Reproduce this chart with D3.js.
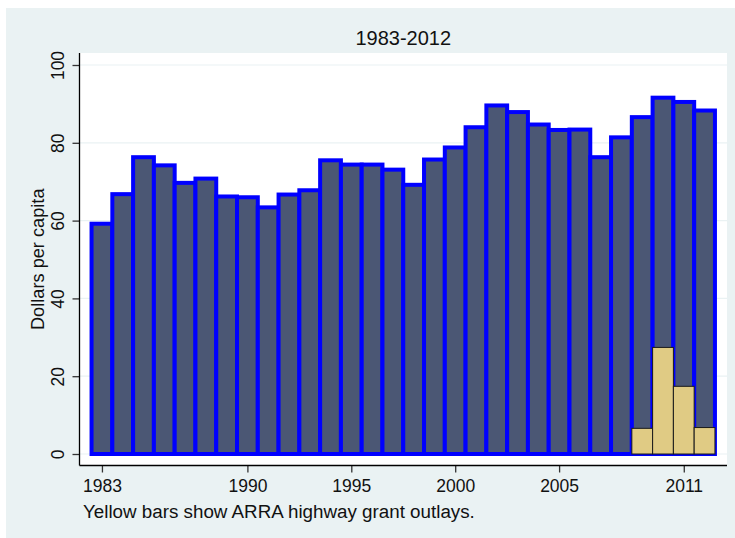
<!DOCTYPE html>
<html>
<head>
<meta charset="utf-8">
<script src="https://cdn.jsdelivr.net/npm/d3@7"></script>
<style>
  html, body { margin: 0; padding: 0; background: #ffffff; }
  svg { display: block; font-family: "Liberation Sans", Arial, Helvetica, sans-serif; }
</style>
</head>
<body>
<svg id="chart" width="735" height="538"></svg>
<script>
const years = [1983,1984,1985,1986,1987,1988,1989,1990,1991,1992,1993,1994,1995,1996,1997,1998,1999,2000,2001,2002,2003,2004,2005,2006,2007,2008,2009,2010,2011,2012];
const totalOutlays = [59.2,66.8,76.3,74.2,69.7,70.8,66.2,66.0,63.4,66.7,67.8,75.5,74.4,74.4,73.1,69.2,75.7,78.8,84.0,89.6,87.9,84.7,83.3,83.4,76.3,81.4,86.6,91.6,90.5,88.3];
const arraYears = [2009,2010,2011,2012];
const arraOutlays = [6.6,27.4,17.4,6.8];
const yTicks = [0,20,40,60,80,100];
const xTicks = [1983,1990,1995,2000,2005,2011];
const titleText = "1983-2012";
const yTitle = "Dollars per capita";
const noteText = "Yellow bars show ARRA highway grant outlays.";

const svg = d3.select("#chart");

// outer background
svg.append("rect").attr("x", 6).attr("y", 8).attr("width", 729).attr("height", 530).attr("fill", "#eaf2f3");

const plot = {left: 79.5, right: 727, top: 53, bottom: 465.5};
svg.append("rect").attr("x", plot.left).attr("y", plot.top)
  .attr("width", plot.right - plot.left).attr("height", plot.bottom - plot.top).attr("fill", "#ffffff");

const x = d3.scaleLinear().domain([1981.92, 2013.08]).range([plot.left, plot.right]);
const y = d3.scaleLinear().domain([0, 100]).range([454, 65]);
const bw = x(1984) - x(1983);

// grid
svg.append("g").selectAll("line").data(yTicks).join("line")
  .attr("x1", plot.left).attr("x2", plot.right)
  .attr("y1", d => y(d)).attr("y2", d => y(d))
  .attr("stroke", "#eaf2f3").attr("stroke-width", 1.2);

// main bars
svg.append("g").selectAll("rect").data(years).join("rect")
  .attr("x", (d) => x(d) - bw / 2)
  .attr("y", (d, i) => y(totalOutlays[i]))
  .attr("width", bw)
  .attr("height", (d, i) => y(0) - y(totalOutlays[i]))
  .attr("fill", "#4b5774")
  .attr("stroke", "#0000ff")
  .attr("stroke-width", 4);

// ARRA bars
svg.append("g").selectAll("rect").data(arraYears).join("rect")
  .attr("x", (d) => x(d) - bw / 2)
  .attr("y", (d, i) => y(arraOutlays[i]))
  .attr("width", bw)
  .attr("height", (d, i) => y(0) - y(arraOutlays[i]))
  .attr("fill", "#e0cb84")
  .attr("stroke", "#1a1a1a")
  .attr("stroke-width", 1);

// y axis
const yAxis = d3.axisLeft(y).tickValues(yTicks).tickSize(7).tickPadding(9).tickFormat(d3.format("d"));
const gy = svg.append("g").attr("transform", `translate(${plot.left},0)`).call(yAxis);
gy.select(".domain").remove();
gy.append("line").attr("x1", 0).attr("x2", 0).attr("y1", plot.top).attr("y2", plot.bottom).attr("stroke", "#000").attr("stroke-width", 1.3);
gy.selectAll(".tick line").attr("stroke", "#333").attr("stroke-width", 1.3);
gy.selectAll(".tick text")
  .attr("font-size", 17.5).attr("fill", "#111")
  .attr("font-family", "Liberation Sans, Arial, sans-serif")
  .attr("x", null).attr("dy", null)
  .attr("text-anchor", "middle")
  .attr("transform", "translate(-16,0) rotate(-90)");

// x axis
const xAxis = d3.axisBottom(x).tickValues(xTicks).tickSize(7).tickPadding(7).tickFormat(d3.format("d"));
const gx = svg.append("g").attr("transform", `translate(0,${plot.bottom})`).call(xAxis);
gx.select(".domain").remove();
gx.append("line").attr("x1", plot.left).attr("x2", plot.right).attr("y1", 0).attr("y2", 0).attr("stroke", "#000").attr("stroke-width", 1.3);
gx.selectAll(".tick line").attr("stroke", "#333").attr("stroke-width", 1.3);
gx.selectAll(".tick text").attr("font-size", 17.5).attr("fill", "#111")
  .attr("font-family", "Liberation Sans, Arial, sans-serif");

// title
svg.append("text").attr("x", (plot.left + plot.right) / 2).attr("y", 44.5)
  .attr("text-anchor", "middle").attr("font-size", 20).attr("fill", "#111").text(titleText);

// y title
svg.append("text").attr("transform", `translate(43.5,${(plot.top + plot.bottom) / 2}) rotate(-90)`)
  .attr("text-anchor", "middle").attr("font-size", 18.2).attr("fill", "#111").text(yTitle);

// note
svg.append("text").attr("x", 83).attr("y", 517.5)
  .attr("font-size", 18.8).attr("fill", "#111").text(noteText);
</script>
</body>
</html>
